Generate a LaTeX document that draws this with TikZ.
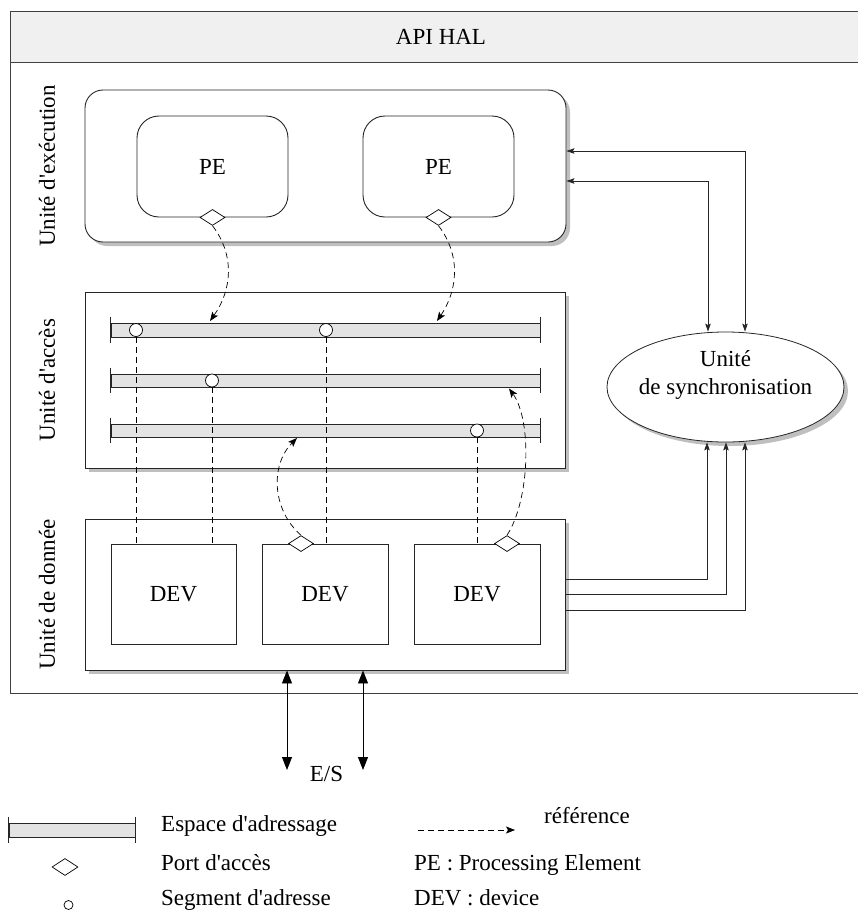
\documentclass[tikz,border=0pt]{standalone}
\usepackage{fontspec}
\setmainfont{Liberation Serif}[Ligatures=TeXOff]
\usetikzlibrary{shapes.geometric,shadows,arrows.meta}
\begin{document}
\begin{tikzpicture}[x=1pt,y=-1pt,
  every node/.style={font=\fontsize{23}{27.6}\selectfont},
  frameline/.style={draw=black!75,line width=1pt},
  unitbox/.style={draw=black!85,line width=0.9pt,fill=white,inner sep=0pt,minimum width=480pt,
     drop shadow={fill=black!25,opacity=1,shadow xshift=4pt,shadow yshift=-4pt}},
  pebox/.style={draw=black!85,line width=0.9pt,rounded corners=22pt,minimum width=151pt,minimum height=101pt},
  devbox/.style={draw=black!85,line width=0.9pt,minimum width=126pt,minimum height=100pt},
  port/.style={diamond,draw,fill=white,inner sep=0pt,minimum width=25pt,minimum height=16pt,line width=0.7pt},
  seg/.style={circle,draw,fill=white,inner sep=0pt,minimum size=13pt,line width=0.7pt},
  bus/.style={draw=black!85,fill=black!11,minimum width=429pt,minimum height=14pt,inner sep=0pt,line width=0.8pt},
  tick/.style={draw=black!85,line width=0.8pt},
  link/.style={dash pattern=on 6pt off 4pt,line width=0.7pt},
  ref/.style={dash pattern=on 6pt off 4pt,line width=0.7pt,-{Stealth[length=9pt,width=7pt,inset=2pt]}},
  conn/.style={draw=black!85,line width=0.8pt},
  sarr/.style={{Stealth[length=8pt,width=5.5pt,inset=1.5pt]}-{Stealth[length=8pt,width=5.5pt,inset=1.5pt]}},
  sarrone/.style={-{Stealth[length=8pt,width=5.5pt,inset=1.5pt]}},
  bigarr/.style={line width=0.9pt,{Triangle[length=13pt,width=10pt]}-{Triangle[length=13pt,width=10pt]}},
  legtext/.style={anchor=base west,inner sep=0pt}
]
\useasboundingbox (0,0) rectangle (858,913);
\clip (0,0) rectangle (858,913);

% outer frame and header
\node[frameline,minimum width=862pt,minimum height=631pt,inner sep=0pt] (frame) at (441,377.5) {};
\node[frameline,fill=black!6,minimum width=862pt,minimum height=51pt,inner sep=0pt] (hdr) at (441,36.5) {API HAL};

% side labels
\node[rotate=90] (lex) at (47,166) {Unité d'exécution};
\node[rotate=90] (lac) at (47,380) {Unité d'accès};
\node[rotate=90] (lda) at (47,594.5) {Unité de donnée};

% execution unit
\node[unitbox,rounded corners=18pt,minimum width=481pt,minimum height=152pt] (exec) at (325.5,166) {};
\node[pebox] (pe1) at (212.5,166.5) {PE};
\node[pebox] (pe2) at (438.5,166.5) {PE};
\node[port] (p1) at (pe1.south) {};
\node[port] (p2) at (pe2.south) {};

% access unit
\node[unitbox,minimum height=176pt] (acc) at (325,380) {};
\node[bus] (b1) at (325.5,330) {};
\node[bus,minimum height=13pt] (b2) at (325.5,380.5) {};
\node[bus,minimum height=13pt] (b3) at (325.5,430.5) {};
\foreach \b in {b1,b2,b3}{
  \draw[tick] ([yshift=6pt]\b.north west) -- ([yshift=-6pt]\b.south west);
  \draw[tick] ([yshift=6pt]\b.north east) -- ([yshift=-6pt]\b.south east);
}

% data unit
\node[unitbox,minimum height=151pt] (dat) at (325,594.5) {};
\node[devbox,minimum width=125pt] (dev1) at (173.5,594) {DEV};
\node[devbox] (dev2) at (325,594) {DEV};
\node[devbox] (dev3) at (477,594) {DEV};

% segments and links
\node[seg] (s1) at (136,330) {};
\node[seg] (s2) at (326,330) {};
\node[seg] (s3) at (212,380.5) {};
\node[seg] (s4) at (477,430.5) {};
\draw[link] (s1.south) -- (s1.south |- dev1.north);
\draw[link] (s3.south) -- (s3.south |- dev1.north);
\draw[link] (s2.south) -- (s2.south |- dev2.north);
\draw[link] (s4.south) -- (dev3.north);

% ports on devices
\node[port] (p3) at ([xshift=-24pt]dev2.north) {};
\node[port] (p4) at ([xshift=30pt]dev3.north) {};

% references
\coordinate (r1) at (210,321);
\coordinate (r2) at (437,321);
\coordinate (r3) at (297,438);
\coordinate (r4) at (509,388.5);
\draw[ref] (p1.south) .. controls (235,255) and (232,290) .. (r1);
\draw[ref] (p2.south) .. controls (461,255) and (458,290) .. (r2);
\draw[ref] (p3.north) .. controls (272,510) and (270,465) .. (r3);
\draw[ref] (p4.north) .. controls (530,500) and (532,420) .. (r4);

% synchronisation unit
\node[ellipse,draw=black!85,line width=0.8pt,fill=white,minimum width=237pt,minimum height=110pt,inner sep=0pt,
  drop shadow={fill=black!25,opacity=1,shadow xshift=4pt,shadow yshift=-4pt}] (sync) at (725.5,387) {};
\node[align=center,inner sep=0pt] (synctxt) at (725.5,375) {Unité\\de synchronisation};

\draw[conn,sarr] ([yshift=15pt]exec.east) -| ([xshift=19.5pt]sync.north);
\draw[conn,sarr] ([yshift=-15pt]exec.east) -| ([xshift=-17.5pt]sync.north);
\draw[conn,sarrone] ([yshift=15.5pt]dat.east) -| ([xshift=-18.5pt]sync.south);
\draw[conn,sarrone] (dat.east) -| ([xshift=0.5pt]sync.south);
\draw[conn,sarrone] ([yshift=-15.5pt]dat.east) -| ([xshift=19.5pt]sync.south);

% E/S
\coordinate (es1) at (287,770);
\coordinate (es2) at (363,770);
\draw[bigarr] ([xshift=-38pt]dat.south) -- (es1);
\draw[bigarr] ([xshift=38pt]dat.south) -- (es2);
\node[anchor=base,inner sep=0pt] (es) at (326.5,781) {E/S};

% legend
\node[bus,minimum width=126pt] (lbar) at (72,830) {};
\draw[tick] ([yshift=6pt]lbar.north west) -- ([yshift=-6pt]lbar.south west);
\draw[tick] ([yshift=6pt]lbar.north east) -- ([yshift=-6pt]lbar.south east);
\node[port,minimum width=26pt,minimum height=17pt] (ldia) at (65,867) {};
\node[seg,minimum size=9pt] (lcir) at (68.5,905) {};
\coordinate (la1) at (418,830);
\coordinate (la2) at (515,830);
\draw[ref] (la1) -- (la2);
\node[legtext] (t1) at (161,831) {Espace d'adressage};
\node[legtext] (t2) at (161,870) {Port d'accès};
\node[legtext] (t3) at (161,905) {Segment d'adresse};
\node[legtext] (t4) at (544,823) {référence};
\node[legtext] (t5) at (414,870) {PE : Processing Element};
\node[legtext] (t6) at (414,905) {DEV : device};
\end{tikzpicture}
\end{document}
